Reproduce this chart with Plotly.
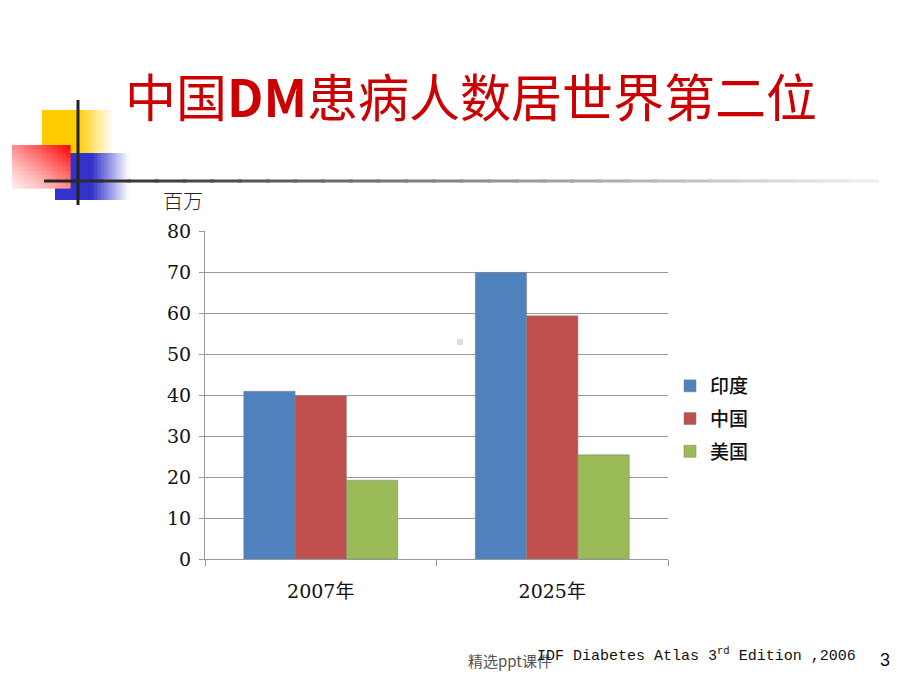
import plotly.graph_objects as go

categories = ["2007年", "2025年"]
series_names = ["印度", "中国", "美国"]
india = [40.9, 69.9]
china = [39.8, 59.3]
usa = [19.2, 25.4]
colors = ["#4F81BD", "#C0504D", "#9BBB59"]

OFF = 8                      # page body margin in the browser
W, H = 920 - OFF, 690 - OFF  # figure size
L, T = 205 - OFF, 231 - OFF  # plot area top-left (reference pixels minus offset)
R, B = 920 - 668, 690 - 559  # plot area right/bottom margins
pw, ph = W - L - R, H - T - B

fig = go.Figure()
for i, (name, vals) in enumerate(zip(series_names, [india, china, usa])):
    fig.add_trace(go.Bar(
        x=categories, y=vals, name=name, legendgroup=name,
        marker=dict(color=colors[i], line=dict(color="rgba(130,130,130,0.55)", width=1)),
    ))


def fx(xref_px):
    """reference pixel x -> plot-domain paper x"""
    return (xref_px - OFF - L) / pw


def fy(yref_px):
    """reference pixel y -> plot-domain paper y"""
    return (T + ph - (yref_px - OFF)) / ph


shapes = []


def rect(x0, y0, x1, y1, color):
    shapes.append(dict(type="rect", xref="paper", yref="paper",
                       x0=fx(x0), x1=fx(x1), y0=fy(y1), y1=fy(y0),
                       line=dict(width=0), fillcolor=color, layer="above"))


def mix(c, a):
    r, g, b = c
    return "rgb(%d,%d,%d)" % (round(255 + (r - 255) * a), round(255 + (g - 255) * a), round(255 + (b - 255) * a))


def hfade(x0, xs, x1, y0, y1, c, n=24):
    rect(x0, y0, xs + 0.5, y1, mix(c, 1))
    for k in range(n):
        t0 = k / n
        t1 = (k + 1) / n
        rect(xs + (x1 - xs) * t0, y0, xs + (x1 - xs) * t1 + 0.6, y1, mix(c, 1 - (t0 + t1) / 2))


# yellow square fading to the right
hfade(42, 77, 113, 110, 153, (255, 204, 0))
# blue square fading to the right
hfade(55, 92, 129, 153, 200, (51, 51, 204))
# red square: white bottom-left -> red top-right (opaque)
nx, ny = 14, 10
x0r, x1r, y0r, y1r = 12, 70, 145, 188
for i in range(nx):
    for j in range(ny):
        u = (i + 0.5) / nx
        v = 1 - (j + 0.5) / ny
        a = min(1, max(0, (u + v) / 2)) ** 1.3
        rect(x0r + (x1r - x0r) * i / nx, y0r + (y1r - y0r) * j / ny,
             x0r + (x1r - x0r) * (i + 1) / nx + 0.6, y0r + (y1r - y0r) * (j + 1) / ny + 0.6,
             mix((255, 0, 0), 0.08 + 0.92 * a))
# vertical black line
rect(76.5, 100, 79.5, 205, "#222222")
# horizontal gradient line (rect strips, overlapping)
m = 30
for k in range(m):
    t = (k + 0.5) / m
    g = int(34 + (240 - 34) * t)
    rect(44 + (875 - 44) * k / m, 179.5, 44 + (875 - 44) * (k + 1) / m + 4.0, 182.5,
         "rgb(%d,%d,%d)" % (g, g, g))
# small grey speck in the plot
rect(457, 339, 463, 345, "#DDDDDD")

annotations = [
    dict(text="中国<b>DM</b>患病人数居世界第二位", x=fx(471), y=fy(95),
         xref="paper", yref="paper", showarrow=False, xanchor="center", yanchor="middle",
         font=dict(family="Noto Sans CJK SC, Liberation Sans", size=51, color="#CC0000")),
    dict(text="百万", x=fx(183), y=fy(201), xref="paper", yref="paper",
         showarrow=False, xanchor="center", yanchor="middle",
         font=dict(family="Noto Sans CJK SC", size=20, color="#222222", weight=300)),
    dict(text="精选ppt课件", x=fx(466), y=fy(660), xref="paper", yref="paper",
         showarrow=False, xanchor="left", yanchor="middle",
         font=dict(family="Noto Sans CJK SC", size=15, color="#555555")),
    dict(text="IDF Diabetes Atlas 3<sup>rd</sup> Edition ,2006", x=fx(535), y=fy(655),
         xref="paper", yref="paper", showarrow=False, xanchor="left", yanchor="middle",
         font=dict(family="Liberation Mono, DejaVu Sans Mono", size=15, color="#111111")),
    dict(text="3", x=fx(885), y=fy(660), xref="paper", yref="paper",
         showarrow=False, xanchor="center", yanchor="middle",
         font=dict(family="Liberation Sans", size=18, color="#111111")),
]

fig.update_layout(
    width=W, height=H,
    margin=dict(l=L, r=R, t=T, b=B, pad=0),
    paper_bgcolor="white", plot_bgcolor="white",
    barmode="group", bargap=0.335, bargroupgap=0,
    shapes=shapes, annotations=annotations,
    showlegend=True,
    legend=dict(x=fx(670), y=fy(367), xanchor="left", yanchor="top",
                font=dict(family="Noto Sans CJK SC", size=19, color="#111111", weight=500),
                tracegroupgap=5, bgcolor="rgba(0,0,0,0)", itemwidth=30, traceorder="grouped"),
    xaxis=dict(showgrid=False, showline=True, linecolor="#999999", linewidth=1,
               ticks="outside", ticklen=6, tickcolor="#999999", tickson="boundaries",
               tickfont=dict(family="DejaVu Serif, Noto Sans CJK SC", size=19, color="#111111"),
               ticklabelstandoff=15),
    yaxis=dict(range=[0, 80], dtick=10, showgrid=True, gridcolor="#999999", gridwidth=1,
               showline=True, linecolor="#999999", linewidth=1, zeroline=False,
               ticks="outside", ticklen=5, tickcolor="#999999",
               tickfont=dict(family="DejaVu Serif", size=19, color="#111111"),
               ticklabelstandoff=4),
)

fig.write_html("out.html")
